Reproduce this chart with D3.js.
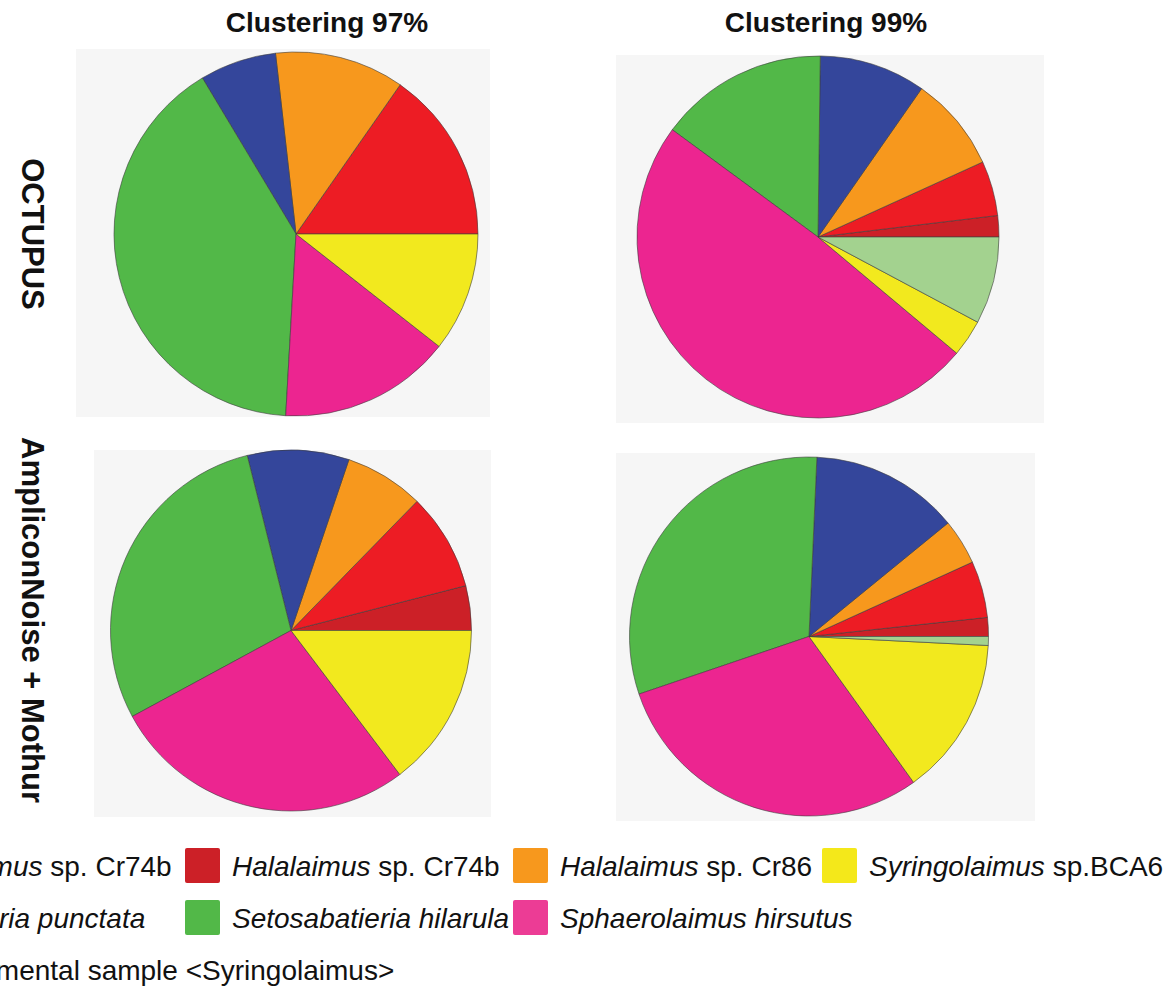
<!DOCTYPE html>
<html>
<head>
<meta charset="utf-8">
<script src="https://cdn.jsdelivr.net/npm/d3@7"></script>
<style>
  html, body { margin: 0; padding: 0; background: #ffffff; overflow: hidden; }
  svg { display: block; font-family: "Liberation Sans", Arial, Helvetica, sans-serif; }
</style>
</head>
<body>
<svg id="chart" width="1174" height="987"></svg>
<script>
// Taxa, in stacking order (counter-clockwise from 3 o'clock)
const taxa = ["HalCr74b_2", "HalCr74b_1", "HalCr86", "SabPunct", "SetHil", "SphHir", "SyrBCA6", "EnvSyr"];

const taxonColors = ["#cc2027", "#ed1c24", "#f7981d", "#34469b", "#52b848", "#ec2590", "#f2e91e", "#a3d28f"];
const keyColors   = ["#cc2027", "#ed1c24", "#f7981d", "#34469b", "#52b848", "#ec3c95", "#f4e81a", "#a3d28f"];

// Legend labels: italic genus / species parts marked with i
const taxonLabels = [
  [{ t: "Halalaimus", i: true }, { t: " sp. Cr74b" }],
  [{ t: "Halalaimus", i: true }, { t: " sp. Cr74b" }],
  [{ t: "Halalaimus", i: true }, { t: " sp. Cr86" }],
  [{ t: "Sabatieria punctata", i: true }],
  [{ t: "Setosabatieria hilarula", i: true }],
  [{ t: "Sphaerolaimus hirsutus", i: true }],
  [{ t: "Syringolaimus", i: true }, { t: " sp.BCA6" }],
  [{ t: "environmental sample <Syringolaimus>" }]
];

// Relative abundance (%) per taxon, one array per pipeline / clustering level
const octupus97 = [0, 15.3, 11.5, 6.8, 40.5, 15.3, 10.6, 0];
const octupus99 = [1.9, 4.9, 8.5, 9.5, 15.1, 49.0, 3.3, 7.8];
const mothur97  = [4.0, 8.7, 7.1, 9.1, 29.0, 27.4, 14.7, 0];
const mothur99  = [1.7, 5.1, 4.1, 13.4, 30.9, 29.7, 14.3, 0.8];

const columnTitles = ["Clustering 97%", "Clustering 99%"];
const rowTitles = ["OCTUPUS", "AmpliconNoise + Mothur"];

// Legend grid: [row, column, taxon index]
const legendCells = [
  [0, 0, 1], [0, 1, 0], [0, 2, 2], [0, 3, 6],
  [1, 0, 3], [1, 1, 4], [1, 2, 5],
  [2, 0, 7]
];

const svg = d3.select("#chart");

const color = d3.scaleOrdinal().domain(taxa).range(taxonColors);
const keyColor = d3.scaleOrdinal().domain(taxa).range(keyColors);

// Panel frames and pie placement
const panels = [
  { values: octupus97, box: [76, 49, 490, 417],  cx: 296, cy: 234, r: 182 },
  { values: octupus99, box: [616, 55, 1044, 423], cx: 818, cy: 237, r: 181 },
  { values: mothur97,  box: [94, 450, 491, 817],  cx: 291, cy: 630.5, r: 180.5 },
  { values: mothur99,  box: [616, 453, 1035, 821], cx: 809, cy: 636.5, r: 179.5 }
];

const pie = d3.pie()
  .sort(null)
  .value(d => d.value)
  .startAngle(Math.PI / 2)
  .endAngle(Math.PI / 2 - 2 * Math.PI);

panels.forEach(p => {
  const [x0, y0, x1, y1] = p.box;
  svg.append("rect")
    .attr("x", x0).attr("y", y0)
    .attr("width", x1 - x0).attr("height", y1 - y0)
    .attr("fill", "#f6f6f6");

  const arc = d3.arc().innerRadius(0).outerRadius(p.r);
  const rows = taxa.map((t, i) => ({ taxon: t, value: p.values[i] }));
  const g = svg.append("g").attr("transform", `translate(${p.cx},${p.cy})`);
  g.selectAll("path")
    .data(pie(rows).filter(d => d.data.value > 0))
    .join("path")
    .attr("d", arc)
    .attr("fill", d => color(d.data.taxon))
    .attr("stroke", "#3c3c3c")
    .attr("stroke-opacity", 0.85)
    .attr("stroke-width", 0.7)
    .attr("stroke-linejoin", "round");
});

// Column titles
const titleX = [327, 826];
columnTitles.forEach((t, i) => {
  svg.append("text")
    .attr("x", titleX[i]).attr("y", 32)
    .attr("text-anchor", "middle")
    .attr("font-size", 28)
    .attr("font-weight", "bold")
    .attr("fill", "#111")
    .text(t);
});

// Row titles (rotated)
const rowY = [234, 620];
rowTitles.forEach((t, i) => {
  svg.append("text")
    .attr("transform", `translate(22,${rowY[i]}) rotate(90)`)
    .attr("text-anchor", "middle")
    .attr("font-size", 31)
    .attr("font-weight", "bold")
    .attr("fill", "#111")
    .text(t);
});

// Legend
const colKeyX = [-143, 185, 513, 822];
const rowKeyY = [848, 900, 952];
const keySize = 35;
const legend = svg.append("g");
legendCells.forEach(([row, col, ti]) => {
  const kx = colKeyX[col], ky = rowKeyY[row];
  legend.append("rect")
    .attr("x", kx).attr("y", ky)
    .attr("width", keySize).attr("height", keySize)
    .attr("rx", 2)
    .attr("fill", keyColor(taxa[ti]));
  const txt = legend.append("text")
    .attr("x", kx + keySize + 12)
    .attr("y", ky + keySize / 2 + 10)
    .attr("font-size", 28)
    .attr("fill", "#111");
  taxonLabels[ti].forEach(part => {
    txt.append("tspan")
      .attr("font-style", part.i ? "italic" : "normal")
      .text(part.t);
  });
});
</script>
</body>
</html>
